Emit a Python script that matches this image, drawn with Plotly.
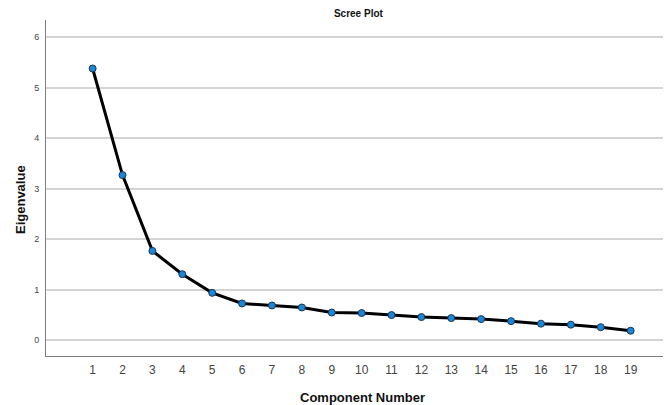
import plotly.graph_objects as go

components = list(range(1, 20))
eigenvalues = [5.38, 3.27, 1.77, 1.31, 0.94, 0.73, 0.69, 0.65, 0.55, 0.54,
               0.50, 0.46, 0.44, 0.42, 0.38, 0.33, 0.31, 0.26, 0.19]
y_ticks = [0, 1, 2, 3, 4, 5, 6]

# The page body has an 8px default margin; size the figure to fit the window.
W, H = 663, 397
L, R, T, B = 38, 3, 12, 49
PW, PH = W - L - R, H - T - B

fig = go.Figure()
fig.add_trace(go.Scatter(
    x=components, y=eigenvalues, mode="lines+markers",
    line=dict(color="black", width=3),
    marker=dict(size=7, color="#1a86d8", line=dict(color="#1b3550", width=1)),
    showlegend=False,
))

fig.update_layout(
    width=W, height=H,
    margin=dict(l=L, r=R, t=T, b=B, autoexpand=False),
    paper_bgcolor="white", plot_bgcolor="white",
    font=dict(family="Liberation Sans, Arial, sans-serif"),
    title=dict(text="<b>Scree Plot</b>", x=(341 - 8) / W, xanchor="center",
               y=1 - (13 - 8) / H, yanchor="middle", xref="paper", yref="container",
               font=dict(size=10, color="#111"), automargin=False),
    xaxis=dict(
        range=[-0.56, 20.25], tickmode="array", tickvals=components,
        ticktext=[str(c) for c in components], automargin=False,
        showgrid=False, zeroline=False, showline=True, linecolor="#808080", linewidth=1,
        ticks="", tickfont=dict(size=12, color="#444"), ticklabelstandoff=3,
    ),
    yaxis=dict(
        range=[-0.31, 6.34], tickmode="array", tickvals=y_ticks, automargin=False,
        showgrid=True, gridcolor="#d4d4d4", gridwidth=1.5, zeroline=False,
        showline=True, linecolor="#808080", linewidth=1,
        ticks="", tickfont=dict(size=9, color="#444"), ticklabelstandoff=4,
    ),
    annotations=[
        dict(text="<b>Component Number</b>", xref="paper", yref="paper",
             x=(362 - 46) / PW, y=-(397 - 356) / PH,
             xanchor="center", yanchor="middle", showarrow=False,
             font=dict(size=13, color="#111")),
        dict(text="<b>Eigenvalue</b>", xref="paper", yref="paper",
             x=-(46 - 20) / PW, y=(356 - 200) / PH,
             xanchor="center", yanchor="middle", textangle=-90, showarrow=False,
             font=dict(size=13, color="#111")),
    ],
)

fig.write_html("out.html")
